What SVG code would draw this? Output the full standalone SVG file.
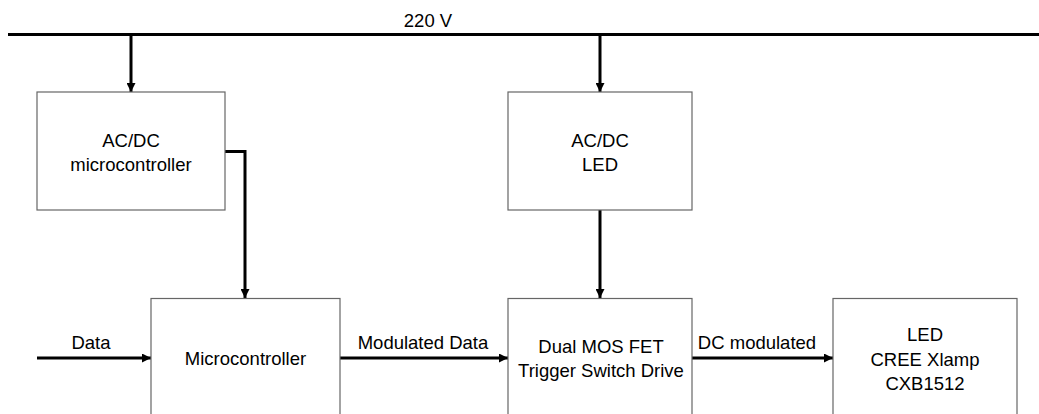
<svg xmlns="http://www.w3.org/2000/svg" width="1039" height="414" viewBox="0 0 1039 414">
<defs>
<marker id="ah" viewBox="0 0 10 10" refX="10" refY="5" markerWidth="3" markerHeight="3" markerUnits="strokeWidth" orient="auto">
<path d="M0,0 L10,5 L0,10 z" fill="#000"/>
</marker>
<style>
.box{fill:#fff;stroke:#666;stroke-width:1.2}
.t{font-family:"Liberation Sans",Arial,sans-serif;font-size:18.5px;fill:#000;text-anchor:middle;dominant-baseline:central}
.c{fill:none;stroke:#000;stroke-width:3}
</style>
</defs>
<rect width="1039" height="414" fill="#fff"/>
<g id="connectors">
<line class="c" x1="8" y1="34.5" x2="1039" y2="34.5"/>
<line class="c" x1="131" y1="34.5" x2="131" y2="92" marker-end="url(#ah)"/>
<line class="c" x1="600" y1="34.5" x2="600" y2="92" marker-end="url(#ah)"/>
<polyline class="c" points="225,151.5 245,151.5 245,298" marker-end="url(#ah)"/>
<line class="c" x1="600" y1="210" x2="600" y2="298" marker-end="url(#ah)"/>
<line class="c" x1="37" y1="358" x2="151" y2="358" marker-end="url(#ah)"/>
<line class="c" x1="340" y1="358" x2="508" y2="358" marker-end="url(#ah)"/>
<line class="c" x1="692" y1="358" x2="833" y2="358" marker-end="url(#ah)"/>
<text class="t" x="428" y="20">220 V</text>
<text class="t" x="91" y="342">Data</text>
<text class="t" x="423" y="342">Modulated Data</text>
<text class="t" x="757" y="342">DC modulated</text>
</g>
<g id="acdc-mcu">
<rect class="box" x="37" y="92" width="188" height="118"/>
<text class="t" x="131" y="140">AC/DC</text>
<text class="t" x="131" y="164">microcontroller</text>
</g>
<g id="acdc-led">
<rect class="box" x="508" y="92" width="184" height="118"/>
<text class="t" x="600" y="140">AC/DC</text>
<text class="t" x="600" y="164">LED</text>
</g>
<g id="mcu">
<rect class="box" x="151" y="298.5" width="189" height="140"/>
<text class="t" x="245.5" y="358">Microcontroller</text>
</g>
<g id="mosfet">
<rect class="box" x="508" y="298.5" width="184" height="140"/>
<text class="t" x="601" y="346">Dual MOS FET</text>
<text class="t" x="601" y="370">Trigger Switch Drive</text>
</g>
<g id="led">
<rect class="box" x="833" y="298.5" width="184" height="140"/>
<text class="t" x="925" y="334">LED</text>
<text class="t" x="925" y="359">CREE Xlamp</text>
<text class="t" x="925" y="383">CXB1512</text>
</g>
</svg>
